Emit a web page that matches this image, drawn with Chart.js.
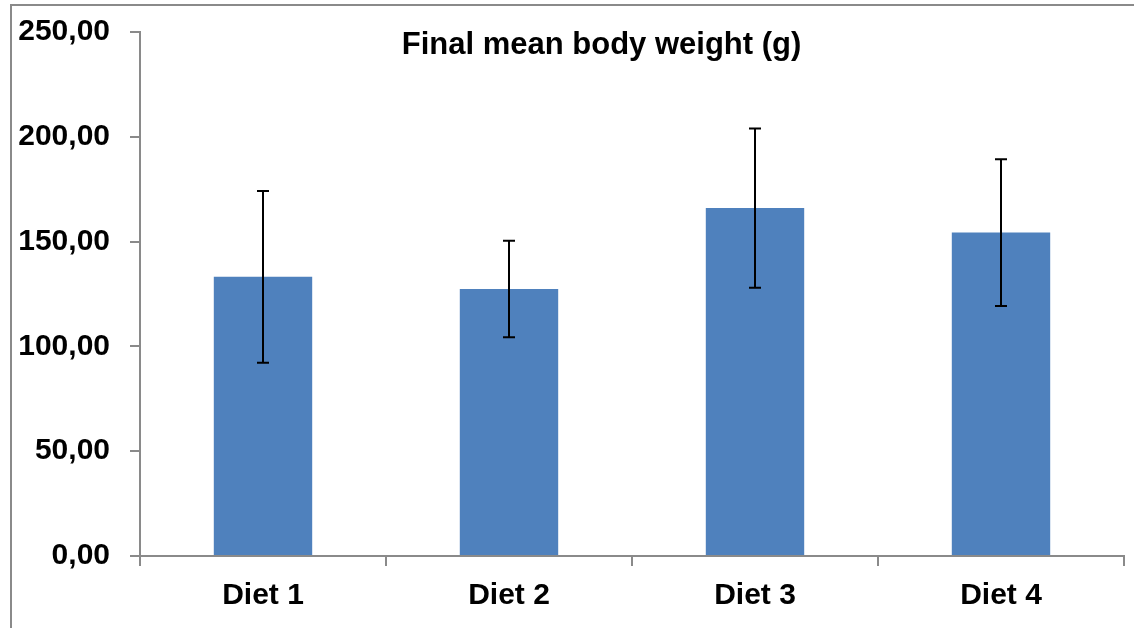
<!DOCTYPE html>
<html>
<head>
<meta charset="utf-8">
<script src="https://cdn.jsdelivr.net/npm/chart.js@4.4.1/dist/chart.umd.min.js"></script>
<style>
  html, body { margin: 0; padding: 0; background: #fff; overflow: hidden; }
  #wrap { position: relative; width: 1134px; height: 628px; }
  #frame { position: absolute; left: 10px; top: 4px; width: 1300px; height: 800px; border: 2px solid #8a8a8a; }
  canvas { position: absolute; left: 0; top: 0; }
</style>
</head>
<body>
<div id="wrap">
  <div id="frame"></div>
  <canvas id="myChart"></canvas>
</div>
<script>
// datos del gráfico
const categorias = ['Diet 1', 'Diet 2', 'Diet 3', 'Diet 4'];
const pesoMedio = [133.2, 127.4, 166.0, 154.3];
const desviacion = [41.0, 23.0, 38.0, 35.0];
const etiquetasY = ['0,00', '50,00', '100,00', '150,00', '200,00', '250,00'];
const titulo = 'Final mean body weight (g)';

const fuente = "'Liberation Sans', Arial, sans-serif";
const gris = '#8a8a8a';

// barras de error
const barrasError = {
  id: 'barrasError',
  afterDatasetsDraw(chart) {
    const { ctx, scales: { y } } = chart;
    const meta = chart.getDatasetMeta(0);
    ctx.save();
    ctx.strokeStyle = '#000';
    ctx.lineWidth = 2;
    meta.data.forEach((bar, i) => {
      const top = y.getPixelForValue(pesoMedio[i] + desviacion[i]);
      const bottom = y.getPixelForValue(pesoMedio[i] - desviacion[i]);
      ctx.beginPath();
      ctx.moveTo(bar.x, top); ctx.lineTo(bar.x, bottom);
      ctx.moveTo(bar.x - 6, top); ctx.lineTo(bar.x + 6, top);
      ctx.moveTo(bar.x - 6, bottom); ctx.lineTo(bar.x + 6, bottom);
      ctx.stroke();
    });
    ctx.restore();
  }
};

// título dentro del área
const tituloInterno = {
  id: 'tituloInterno',
  afterDraw(chart) {
    const { ctx, chartArea } = chart;
    ctx.save();
    ctx.font = `bold 31px ${fuente}`;
    ctx.fillStyle = '#000';
    ctx.textAlign = 'center';
    ctx.textBaseline = 'alphabetic';
    ctx.fillText(titulo, chartArea.left + chartArea.width * 0.469, 54);
    ctx.restore();
  }
};

const ctx = document.getElementById('myChart').getContext('2d');
const chart = new Chart(ctx, {
  type: 'bar',
  data: {
    labels: categorias,
    datasets: [{
      data: pesoMedio,
      backgroundColor: '#4F81BD',
      borderWidth: 0,
      categoryPercentage: 1,
      barPercentage: 0.4
    }]
  },
  options: {
    responsive: true,
    maintainAspectRatio: false,
    animation: false,
    layout: { padding: { left: 10, right: 10, top: 32, bottom: 0 } },
    plugins: {
      legend: { display: false },
      title: { display: false },
      tooltip: { enabled: false }
    },
    scales: {
      x: {
        grid: { offset: true, drawOnChartArea: false, tickLength: 10, color: gris, lineWidth: 2 },
        border: { color: gris, width: 2 },
        ticks: { color: '#000', font: { family: fuente, size: 30, weight: 'bold' }, padding: 12, maxRotation: 0 },
        afterFit: s => { s.height = 72; s.paddingLeft = 0; s.paddingRight = 0; }
      },
      y: {
        min: 0,
        max: 250,
        grid: { drawOnChartArea: false, tickLength: 10, color: gris, lineWidth: 2 },
        border: { color: gris, width: 2 },
        ticks: {
          stepSize: 50,
          color: '#000',
          font: { family: fuente, size: 30, weight: 'bold' },
          padding: 20,
          callback: (v, i) => etiquetasY[i]
        },
        afterFit: s => { s.width = 130; s.paddingTop = 0; s.paddingBottom = 0; }
      }
    }
  },
  plugins: [barrasError, tituloInterno]
});
</script>
</body>
</html>
